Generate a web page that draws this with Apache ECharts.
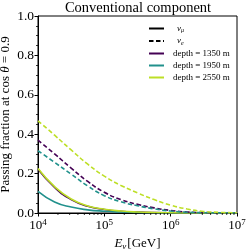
<!DOCTYPE html>
<html><head><meta charset="utf-8">
<script src="https://cdn.jsdelivr.net/npm/echarts@6/dist/echarts.min.js"></script>
<style>html,body{margin:0;padding:0;background:#fff}#c{width:249px;height:249px}</style>
</head><body><div id="c"></div>
<script>
// Energies (GeV), quarter-decade steps
var energies = [10000, 17783, 31623, 56234, 100000, 177828, 316228, 562341, 1000000, 1778279, 3162278, 5623413, 10000000];
// nu_mu (solid)
var numu1350 = [0.222, 0.130, 0.068, 0.034, 0.018, 0.009, 0.0045, 0.002, 0.001, 0.0005, 0.0002, 0.0001, 0.0];
var numu1950 = [0.110, 0.056, 0.030, 0.016, 0.009, 0.005, 0.0025, 0.0012, 0.0006, 0.0003, 0.0001, 0.00005, 0.0];
var numu2550 = [0.226, 0.134, 0.071, 0.036, 0.019, 0.010, 0.005, 0.0025, 0.0012, 0.0005, 0.0002, 0.0001, 0.0];
// nu_e (dashed)
var nue1350 = [0.370, 0.300, 0.228, 0.160, 0.105, 0.068, 0.044, 0.026, 0.013, 0.005, 0.002, 0.0006, 0.0001];
var nue1950 = [0.316, 0.257, 0.197, 0.137, 0.088, 0.057, 0.037, 0.021, 0.010, 0.004, 0.0015, 0.0004, 0.0001];
var nue2550 = [0.468, 0.395, 0.320, 0.248, 0.187, 0.140, 0.102, 0.068, 0.040, 0.020, 0.008, 0.003, 0.001];
var yTicks = [0, 0.2, 0.4, 0.6, 0.8, 1.0];
var xDecades = [4, 5, 6, 7];
var legendNames = ['ν_μ', 'ν_e', 'depth = 1350 m', 'depth = 1950 m', 'depth = 2550 m'];

var C1 = '#440154', C2 = '#21918c', C3 = '#bddf26';
var FONT = 'Liberation Serif';
function pairs(v){ return energies.map(function(e,i){return [e, v[i]];}); }
function line(name, vals, color, dashed){
  return {type:'line', name:name, data:pairs(vals), smooth:0.5, symbol:'none',
    lineStyle:{color:color, width:1.6, type: dashed ? [4.5,2.5] : 'solid'}, itemStyle:{color:color}, z:3};
}
var minorE = [];
for (var d = 4; d < 7; d++) for (var k = 2; k <= 9; k++) minorE.push([k * Math.pow(10, d), 0]);

var series = [
  {type:'line', name:'ν_μ', data:[], symbol:'none', lineStyle:{color:'#000', width:1.6, type:'solid'}, itemStyle:{color:'#000'}},
  {type:'line', name:'ν_e', data:[], symbol:'none', lineStyle:{color:'#000', width:1.6, type:[4.5,2.5]}, itemStyle:{color:'#000'}},
  line('depth = 1350 m', numu1350, C1, false),
  line('depth = 1950 m', numu1950, C2, false),
  line('depth = 2550 m', numu2550, C3, false),
  line('depth = 1350 m', nue1350, C1, true),
  line('depth = 1950 m', nue1950, C2, true),
  line('depth = 2550 m', nue2550, C3, true),
  {type:'custom', name:'minor', data:minorE, clip:false, silent:true, z:5,
    renderItem:function(params, api){
      var p = api.coord([api.value(0), 0]);
      return {type:'line', shape:{x1:p[0], y1:p[1], x2:p[0], y2:p[1]+2}, style:{stroke:'#000', lineWidth:0.8}};
    }}
];

var chart = echarts.init(document.getElementById('c'), null, {renderer:'canvas'});
chart.setOption({
  animation:false,
  backgroundColor:'#fff',
  title:{text:'Conventional component', left:138, top:1, padding:0, textAlign:'center',
    textStyle:{fontFamily:FONT, fontSize:14.5, fontWeight:'normal', color:'#000'}},
  grid:{left:38, right:12, top:16, bottom:36, show:true, borderColor:'#000', borderWidth:1,
    containLabel:false, outerBoundsMode:'none'},
  legend:{data:legendNames, orient:'vertical', left:148, top:24, padding:0, itemWidth:15, itemHeight:8, itemGap:3,
    itemStyle:{opacity:0},
    textStyle:{fontFamily:FONT, fontSize:9, color:'#000', padding:[0,0,0,4],
      rich:{a:{fontFamily:FONT, fontSize:9, fontStyle:'italic', padding:[0,0,0,4]}, s:{fontFamily:FONT, fontSize:6, fontStyle:'italic', padding:[4,0,0,0]}}},
    formatter:function(n){
      if (n === 'ν_μ') return '{a|ν}{s|μ}';
      if (n === 'ν_e') return '{a|ν}{s|e}';
      return n;
    }},
  xAxis:{type:'log', logBase:10, min:1e4, max:1e7, interval:1,
    name:'{i|E}{s|ν}{n|[GeV]}', nameLocation:'middle', nameGap:23, nameMoveOverlap:false,
    nameTextStyle:{fontFamily:FONT, fontSize:13, color:'#000',
      rich:{i:{fontFamily:FONT, fontSize:13, fontStyle:'italic'}, s:{fontFamily:FONT, fontSize:9, fontStyle:'italic', padding:[6,1,0,0]}, n:{fontFamily:FONT, fontSize:13}}},
    axisLine:{show:true, lineStyle:{color:'#000', width:1}},
    axisTick:{show:true, inside:false, length:3.5, lineStyle:{color:'#000', width:1}},
    splitLine:{show:false}, minorTick:{show:false},
    axisLabel:{margin:5, color:'#000',
      formatter:function(v){ var e = Math.round(Math.log10(v)); return '{b|10}{s|' + e + '}'; },
      rich:{b:{fontFamily:FONT, fontSize:13, color:'#000'}, s:{fontFamily:FONT, fontSize:9, color:'#000', padding:[0,0,7,0]}}}},
  yAxis:{type:'value', min:0, max:1, interval:0.2,
    name:'Passing fraction at cos {i|θ} = 0.9', nameLocation:'middle', nameGap:26, nameMoveOverlap:false,
    nameTextStyle:{fontFamily:FONT, fontSize:13, color:'#000', rich:{i:{fontFamily:FONT, fontSize:13, fontStyle:'italic'}}},
    axisLine:{show:true, lineStyle:{color:'#000', width:1}},
    axisTick:{show:true, inside:false, length:3.5, lineStyle:{color:'#000', width:1}},
    minorTick:{show:true, splitNumber:4, length:2, lineStyle:{color:'#000', width:0.8}},
    splitLine:{show:false}, minorSplitLine:{show:false},
    axisLabel:{margin:4, fontFamily:FONT, fontSize:13.5, color:'#000', formatter:function(v){return v.toFixed(1);}}},
  series:series
});
</script></body></html>
